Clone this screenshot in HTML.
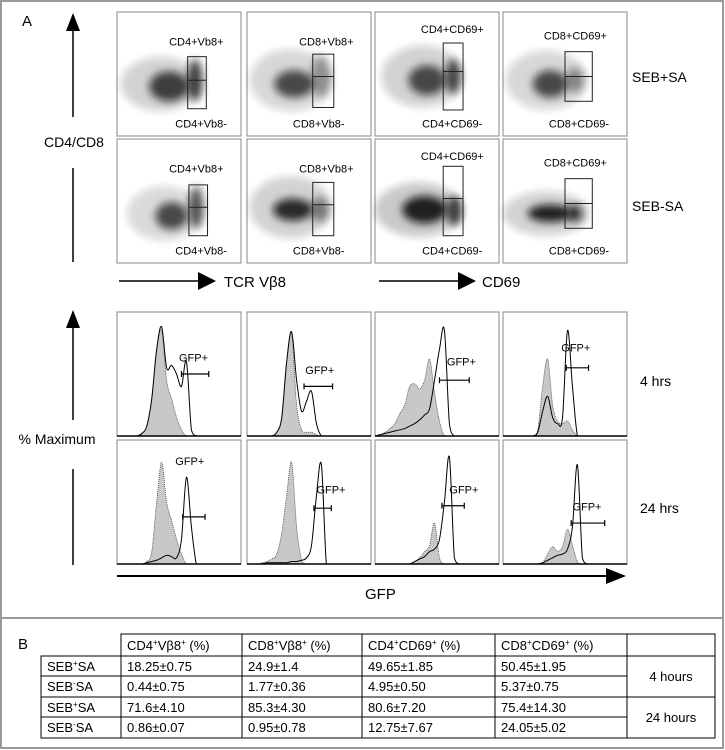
<!DOCTYPE html>
<html><head><meta charset="utf-8">
<style>
html,body{margin:0;padding:0;background:#fff;}
svg{display:block;font-family:"Liberation Sans",Arial,sans-serif;}
</style></head>
<body>
<svg id="fig" width="725" height="750" viewBox="0 0 725 750" xmlns="http://www.w3.org/2000/svg">
<defs>
  <filter id="blur3" x="-50%" y="-50%" width="200%" height="200%"><feGaussianBlur stdDeviation="4"/></filter>
</defs>
<rect x="1" y="1" width="722" height="747" fill="#fff" stroke="#9a9a9a" stroke-width="2"/>
<line x1="1" y1="618" x2="724" y2="618" stroke="#9a9a9a" stroke-width="2"/>
<text x="22" y="26" font-size="15">A</text>

<g>
  <polygon points="73,13 66,31 80,31" fill="#000"/>
  <line x1="73" y1="30" x2="73" y2="117" stroke="#000" stroke-width="1.5"/>
  <text x="74" y="147" font-size="14" text-anchor="middle">CD4/CD8</text>
  <line x1="73" y1="168" x2="73" y2="262" stroke="#000" stroke-width="1.5"/>
</g>
<g>
  <polygon points="73,310 66,328 80,328" fill="#000"/>
  <line x1="73" y1="327" x2="73" y2="420" stroke="#000" stroke-width="1.5"/>
  <text x="57" y="444" font-size="14" text-anchor="middle">% Maximum</text>
  <line x1="73" y1="469" x2="73" y2="565" stroke="#000" stroke-width="1.5"/>
</g>

<g>
  <line x1="119" y1="281" x2="200" y2="281" stroke="#000" stroke-width="1.5"/>
  <polygon points="216,281 198,272 198,290" fill="#000"/>
  <text x="224" y="287" font-size="15">TCR Vβ8</text>
</g>
<g>
  <line x1="379" y1="281" x2="460" y2="281" stroke="#000" stroke-width="1.5"/>
  <polygon points="476,281 458,272 458,290" fill="#000"/>
  <text x="482" y="287" font-size="15">CD69</text>
</g>
<g>
  <line x1="117" y1="576" x2="610" y2="576" stroke="#000" stroke-width="2"/>
  <polygon points="626,576 606,568 606,584" fill="#000"/>
  <text x="365" y="599" font-size="15">GFP</text>
</g>

<text x="632" y="82" font-size="14">SEB+SA</text>
<text x="632" y="211" font-size="14">SEB-SA</text>
<text x="640" y="386" font-size="14">4 hrs</text>
<text x="640" y="513" font-size="14">24 hrs</text>

<g id="dots"></g>
<g id="hists"></g>

<text x="18" y="649" font-size="15">B</text>
<g id="table"></g>
</svg>

<script>
const NS = 'http://www.w3.org/2000/svg';
const colX = [117, 247, 375, 503];
const PW = 124;
const dotRowY = [12, 139];
const histRowY = [312, 440];
const PH = 124;

const dotTopLabels = ['CD4+Vb8+','CD8+Vb8+','CD4+CD69+','CD8+CD69+'];
const dotBotLabels = ['CD4+Vb8-','CD8+Vb8-','CD4+CD69-','CD8+CD69-'];
const dotClouds = [
  [[0.42,0.60,0.16,0.12,0.75],[0.63,0.55,0.06,0.17,0.75],[0.35,0.58,0.32,0.22,0.18]],
  [[0.38,0.58,0.16,0.11,0.7],[0.60,0.52,0.08,0.17,0.35],[0.35,0.55,0.33,0.25,0.16]],
  [[0.42,0.55,0.15,0.12,0.7],[0.63,0.52,0.06,0.14,0.7],[0.38,0.52,0.33,0.25,0.18]],
  [[0.38,0.58,0.14,0.11,0.7],[0.58,0.55,0.07,0.1,0.4],[0.35,0.55,0.33,0.24,0.16]],
  [[0.44,0.62,0.13,0.11,0.7],[0.64,0.55,0.06,0.17,0.65],[0.38,0.6,0.3,0.22,0.15]],
  [[0.37,0.57,0.16,0.09,0.85],[0.59,0.57,0.07,0.1,0.45],[0.35,0.55,0.33,0.25,0.18]],
  [[0.40,0.57,0.18,0.11,0.9],[0.64,0.58,0.06,0.12,0.75],[0.35,0.57,0.35,0.22,0.22]],
  [[0.38,0.60,0.18,0.07,0.9],[0.58,0.60,0.06,0.07,0.75],[0.35,0.6,0.35,0.18,0.18]]
];
const dotGates = [
  [0.57,0.72,0.36,0.55,0.78],[0.53,0.70,0.34,0.52,0.77],
  [0.55,0.71,0.25,0.48,0.79],[0.50,0.72,0.32,0.52,0.72],
  [0.58,0.73,0.37,0.55,0.78],[0.53,0.70,0.35,0.53,0.78],
  [0.55,0.71,0.22,0.48,0.78],[0.50,0.72,0.32,0.52,0.72]
];
const dotLabelPos = [[0.42,0.27,0.47,0.93],[0.42,0.27,0.37,0.93],[0.37,0.17,0.38,0.93],[0.33,0.22,0.37,0.93],
                     [0.42,0.27,0.47,0.93],[0.42,0.27,0.37,0.93],[0.37,0.17,0.38,0.93],[0.33,0.22,0.37,0.93]];

function el(tag, attrs, parent){const e=document.createElementNS(NS,tag);for(const k in attrs)e.setAttribute(k,attrs[k]);parent.appendChild(e);return e;}

const dots = document.getElementById('dots');
for(let r=0;r<2;r++)for(let c=0;c<4;c++){
  const i=r*4+c, x0=colX[c], y0=dotRowY[r];
  const g=el('g',{},dots);
  
  
  el('rect',{x:x0,y:y0,width:PW,height:PH,fill:'#fff',stroke:'#888','stroke-width':1},g);
  dotClouds[i].slice().reverse().forEach(cl=>{
    el('ellipse',{cx:x0+cl[0]*PW,cy:y0+cl[1]*PH,rx:cl[2]*PW,ry:cl[3]*PH,fill:'#111',opacity:cl[4],filter:'url(#blur3)'},g);
  });
  const gt=dotGates[i];
  el('rect',{x:x0+gt[0]*PW,y:y0+gt[2]*PH,width:(gt[1]-gt[0])*PW,height:(gt[4]-gt[2])*PH,fill:'none',stroke:'#222','stroke-width':1},g);
  el('line',{x1:x0+gt[0]*PW,x2:x0+gt[1]*PW,y1:y0+gt[3]*PH,y2:y0+gt[3]*PH,stroke:'#222','stroke-width':1},g);
  const lp=dotLabelPos[i];
  const t1=el('text',{x:x0+lp[0]*PW,y:y0+lp[1]*PH,'font-size':11},g); t1.textContent=dotTopLabels[c];
  const t2=el('text',{x:x0+lp[2]*PW,y:y0+lp[3]*PH,'font-size':11},g); t2.textContent=dotBotLabels[c];
}

const histFilled = [
  [0,0,0,0,0,2,8,30,70,85,45,30,15,5,0,0,0,0,0,0,0,0,0,0,0,0],
  [0,0,0,0,0,0,3,15,60,82,25,5,3,3,1,0,0,0,0,0,0,0,0,0,0,0],
  [0,1,3,6,10,18,25,40,42,38,45,62,35,12,0,0,0,0,0,0,0,0,0,0,0,0],
  [0,0,0,0,0,0,0,5,40,62,25,12,10,12,5,0,0,0,0,0,0,0,0,0,0,0],
  [0,0,0,0,0,0,2,10,50,82,50,35,20,8,0,0,0,0,0,0,0,0,0,0,0,0],
  [0,0,0,1,2,4,8,25,55,82,30,3,0,0,0,0,0,0,0,0,0,0,0,0,0,0],
  [0,0,0,0,0,0,0,0,2,5,10,15,33,5,0,0,0,0,0,0,0,0,0,0,0,0],
  [0,0,0,0,0,0,0,0,1,8,14,10,14,28,15,2,0,0,0,0,0,0,0,0,0,0]
];
const histOpen = [
  [0,0,0,0,0,2,8,30,70,88,55,57,50,40,60,5,0,0,0,0,0,0,0,0,0,0],
  [0,0,0,0,0,0,3,15,60,84,45,20,28,36,10,0,0,0,0,0,0,0,0,0,0,0],
  [0,1,2,3,4,5,6,8,10,13,17,22,45,70,85,10,0,0,0,0,0,0,0,0,0,0],
  [0,0,0,0,0,0,0,3,20,32,15,10,15,85,40,0,0,0,0,0,0,0,0,0,0,0],
  [0,0,0,0,0,0,1,2,3,5,7,6,5,20,70,30,0,0,0,0,0,0,0,0,0,0],
  [0,0,0,0,1,1,1,1,1,2,2,3,5,15,55,80,0,0,0,0,0,0,0,0,0,0],
  [0,0,0,0,0,0,0,0,2,4,6,10,12,20,50,86,5,0,0,0,0,0,0,0,0,0],
  [0,0,0,0,0,0,0,0,1,3,5,7,8,12,30,80,5,0,0,0,0,0,0,0,0,0]
];
const histGate = [[0.52,0.74,50],[0.46,0.69,40],[0.52,0.76,45],[0.51,0.69,55],
                  [0.53,0.71,38],[0.54,0.68,45],[0.54,0.72,47],[0.55,0.82,33]];
const histLabel = [[0.50,60],[0.47,50],[0.58,57],[0.47,68],[0.47,80],[0.56,57],[0.60,57],[0.56,43]];
const NB = 25;

function xs(x0,i){return x0+(i/NB)*PW;}
function ys(y0,v){return y0+PH-(v/100)*PH;}
function smoothPath(x0,y0,arr){
  const pts=arr.map((v,i)=>[xs(x0,i),ys(y0,v)]);
  let d='M'+pts[0][0]+','+pts[0][1];
  for(let i=0;i<pts.length-1;i++){
    const p0=pts[Math.max(0,i-1)],p1=pts[i],p2=pts[i+1],p3=pts[Math.min(pts.length-1,i+2)];
    const c1x=p1[0]+(p2[0]-p0[0])/6, c1y=Math.min(y0+PH,p1[1]+(p2[1]-p0[1])/6);
    const c2x=p2[0]-(p3[0]-p1[0])/6, c2y=Math.min(y0+PH,p2[1]-(p3[1]-p1[1])/6);
    d+=' C'+c1x+','+c1y+' '+c2x+','+c2y+' '+p2[0]+','+p2[1];
  }
  return d;
}
const hists=document.getElementById('hists');
for(let r=0;r<2;r++)for(let c=0;c<4;c++){
  const i=r*4+c,x0=colX[c],y0=histRowY[r];
  const g=el('g',{},hists);
  
  
  el('rect',{x:x0,y:y0,width:PW,height:PH,fill:'#fff',stroke:'#888','stroke-width':1},g);
  const fp=smoothPath(x0,y0,histFilled[i]);
  const f=el('path',{d:fp+' L'+xs(x0,NB)+','+(y0+PH)+' L'+x0+','+(y0+PH)+' Z',fill:'#c8c8c8',stroke:'#444','stroke-width':0.8,'stroke-dasharray':'1,1'},g);
  
  
  const o=el('path',{d:smoothPath(x0,y0,histOpen[i]),fill:'none',stroke:'#000','stroke-width':1},g);
  
  
  el('line',{x1:x0,x2:x0+PW,y1:y0+PH,y2:y0+PH,stroke:'#000','stroke-width':1.5},g);
  const gt=histGate[i], gy=ys(y0,gt[2]);
  const gg=el('g',{stroke:'#000','stroke-width':1.2},g);
  
  
  el('line',{x1:x0+gt[0]*PW,x2:x0+gt[1]*PW,y1:gy,y2:gy},gg);
  el('line',{x1:x0+gt[0]*PW,x2:x0+gt[0]*PW,y1:gy-3,y2:gy+3},gg);
  el('line',{x1:x0+gt[1]*PW,x2:x0+gt[1]*PW,y1:gy-3,y2:gy+3},gg);
  const lb=histLabel[i];
  const t=el('text',{x:x0+lb[0]*PW,y:ys(y0,lb[1]),'font-size':11},g); t.textContent='GFP+';
}

const tbl=document.getElementById('table');
const colEdges=[41,121,242,362,495,627,715];
const rowEdges=[634,656,676,697,717,738];
const rowHeads=[['SEB','+','SA'],['SEB','-','SA'],['SEB','+','SA'],['SEB','-','SA']];
const cells=[['18.25±0.75','24.9±1.4','49.65±1.85','50.45±1.95'],
             ['0.44±0.75','1.77±0.36','4.95±0.50','5.37±0.75'],
             ['71.6±4.10','85.3±4.30','80.6±7.20','75.4±14.30'],
             ['0.86±0.07','0.95±0.78','12.75±7.67','24.05±5.02']];
const heads=[['CD4','+','Vβ8','+',' (%)'],['CD8','+','Vβ8','+',' (%)'],['CD4','+','CD69','+',' (%)'],['CD8','+','CD69','+',' (%)']];
const S={stroke:'#000','stroke-width':1};
el('rect',Object.assign({x:colEdges[1],y:rowEdges[0],width:colEdges[6]-colEdges[1],height:rowEdges[1]-rowEdges[0],fill:'none'},S),tbl);
el('rect',Object.assign({x:colEdges[0],y:rowEdges[1],width:colEdges[6]-colEdges[0],height:rowEdges[5]-rowEdges[1],fill:'none'},S),tbl);
for(let k=1;k<6;k++) el('line',Object.assign({x1:colEdges[k],x2:colEdges[k],y1:(k==1?rowEdges[1]:rowEdges[0]),y2:rowEdges[5]},S),tbl);
for(let k=2;k<5;k++) el('line',Object.assign({x1:colEdges[0],x2:colEdges[5],y1:rowEdges[k],y2:rowEdges[k]},S),tbl);
el('line',Object.assign({x1:colEdges[5],x2:colEdges[6],y1:rowEdges[3],y2:rowEdges[3]},S),tbl);
function supText(x,y,parts,name){
  const t=el('text',{x:x,y:y,'font-size':13},tbl);
  
  
  parts.forEach((p,j)=>{const s=el('tspan',{},t);s.textContent=p;
    if(j%2==1 && p!==' (%)'){s.setAttribute('font-size','8');s.setAttribute('dy','-5');}
    else if(j>0){s.setAttribute('dy','5');}
  });
}
heads.forEach((h,k)=>supText(colEdges[k+1]+6,rowEdges[0]+16,h,'column-header-'+(k+1)));
rowHeads.forEach((h,k)=>supText(colEdges[0]+6,rowEdges[k+1]+15,h,'row-header-'+(k+1)));
cells.forEach((row,r)=>row.forEach((v,c)=>{
  const t=el('text',{x:colEdges[c+1]+6,y:rowEdges[r+1]+15,'font-size':13},tbl);
  
  
  t.textContent=v;
}));
const t4=el('text',{x:(colEdges[5]+colEdges[6])/2,y:rowEdges[2]+5,'font-size':13,'text-anchor':'middle'},tbl);


t4.textContent='4 hours';
const t24=el('text',{x:(colEdges[5]+colEdges[6])/2,y:rowEdges[4]+5,'font-size':13,'text-anchor':'middle'},tbl);


t24.textContent='24 hours';
</script>
</body></html>
